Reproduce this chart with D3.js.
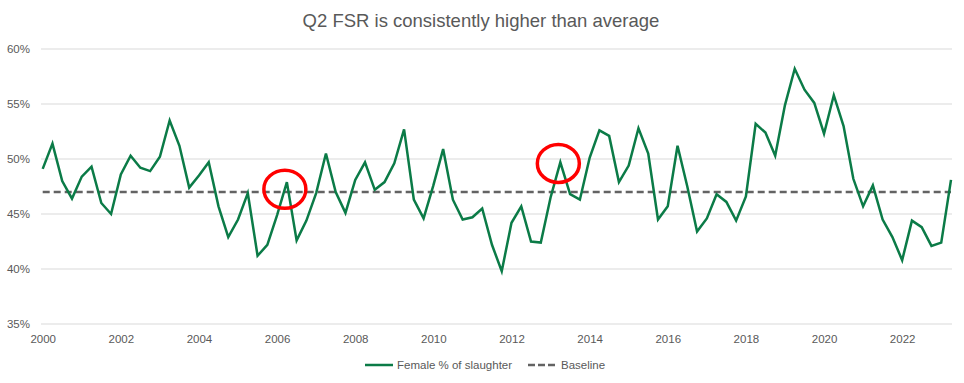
<!DOCTYPE html>
<html><head><meta charset="utf-8">
<script src="https://cdn.jsdelivr.net/npm/d3@7"></script>
<style>body{margin:0;background:#fff;}svg{display:block;}</style>
</head><body>
<svg id="chart" width="964" height="383"></svg>
<script>
const title = "Q2 FSR is consistently higher than average";
const startYear = 2000;
// quarterly female % of slaughter, 2000 Q1 .. 2023 Q2
const femaleShare = [
  49.1,51.4,48.0,46.4,48.4,49.3,46.0,45.0,48.6,50.3,49.2,48.9,50.2,53.5,51.2,47.4,
  48.5,49.7,45.7,42.9,44.5,46.9,41.2,42.2,44.9,47.9,42.6,44.4,46.9,50.5,47.0,45.1,
  48.1,49.7,47.2,47.9,49.6,52.7,46.3,44.6,47.6,50.9,46.3,44.5,44.7,45.5,42.2,39.8,
  44.2,45.7,42.5,42.4,46.5,49.7,46.8,46.3,50.1,52.6,52.1,47.9,49.4,52.8,50.5,44.5,
  45.7,51.2,47.5,43.4,44.6,46.8,46.1,44.4,46.6,53.2,52.4,50.3,54.9,58.2,56.3,55.1,
  52.3,55.8,53.0,48.2,45.7,47.6,44.5,42.9,40.8,44.4,43.8,42.1,42.4,48.1
];
const baseline = 47.0;
const yTicks = [35,40,45,50,55,60];
const xTicks = [2000,2002,2004,2006,2008,2010,2012,2014,2016,2018,2020,2022];
const highlights = [{year:2006.25, value:47.25},{year:2013.25, value:49.6}];
const seriesNames = ["Female % of slaughter","Baseline"];

const svg = d3.select("#chart");
const x = d3.scaleLinear().domain([2000, 2023.25]).range([42.7, 951]);
const y = d3.scaleLinear().domain([35, 60]).range([324, 49]);
const font = "'Liberation Sans', Arial, sans-serif";
const grey = "#595959";
const green = "#0B7B47";

svg.append("text").attr("x", 481).attr("y", 26.5).attr("text-anchor","middle")
  .attr("font-family", font).attr("font-size", 18.5).attr("fill", grey).text(title);

// gridlines
svg.append("g").selectAll("line").data(yTicks).join("line")
  .attr("x1", 41).attr("x2", 952).attr("y1", d=>y(d)).attr("y2", d=>y(d))
  .attr("stroke", "#d9d9d9").attr("stroke-width", 1.2);

// y axis labels
const yAxis = d3.axisLeft(y).tickValues(yTicks).tickFormat(d=>d+"%").tickSize(0).tickPadding(0);
const gy = svg.append("g").attr("transform","translate(30,0)").call(yAxis);
gy.select(".domain").remove();
gy.selectAll("text").attr("font-family", font).attr("font-size", 11.5).attr("fill", grey);

// x axis labels
const xAxis = d3.axisBottom(x).tickValues(xTicks).tickFormat(d3.format("d")).tickSize(0).tickPadding(0);
const gx = svg.append("g").attr("transform","translate(0,335)").call(xAxis);
gx.select(".domain").remove();
gx.selectAll("text").attr("font-family", font).attr("font-size", 11.5).attr("fill", grey);

// baseline
svg.append("line").attr("x1", x(2000)).attr("x2", x(2023.25))
  .attr("y1", y(baseline)).attr("y2", y(baseline))
  .attr("stroke", "#636363").attr("stroke-width", 2.5).attr("stroke-dasharray", "7,4");

// series
const line = d3.line().x((d,i)=>x(startYear + i/4)).y(d=>y(d));
svg.append("path").datum(femaleShare).attr("d", line).attr("fill","none")
  .attr("stroke", green).attr("stroke-width", 2.5).attr("stroke-linejoin","miter");

// highlight circles
svg.append("g").selectAll("ellipse").data(highlights).join("ellipse")
  .attr("cx", d=>x(d.year)-2).attr("cy", d=>y(d.value)).attr("rx", 21).attr("ry", 19)
  .attr("fill","none").attr("stroke","#FF0000").attr("stroke-width", 3.5);

// legend
const lg = svg.append("g").attr("font-family", font).attr("font-size", 11.5).attr("fill", grey);
lg.append("line").attr("x1",365).attr("x2",393).attr("y1",365).attr("y2",365).attr("stroke",green).attr("stroke-width",2.5);
lg.append("text").attr("x",397).attr("y",369).text(seriesNames[0]);
lg.append("line").attr("x1",528).attr("x2",556).attr("y1",365).attr("y2",365).attr("stroke","#636363").attr("stroke-width",2.5).attr("stroke-dasharray","7,3");
lg.append("text").attr("x",561).attr("y",369).text(seriesNames[1]);
</script>
</body></html>
